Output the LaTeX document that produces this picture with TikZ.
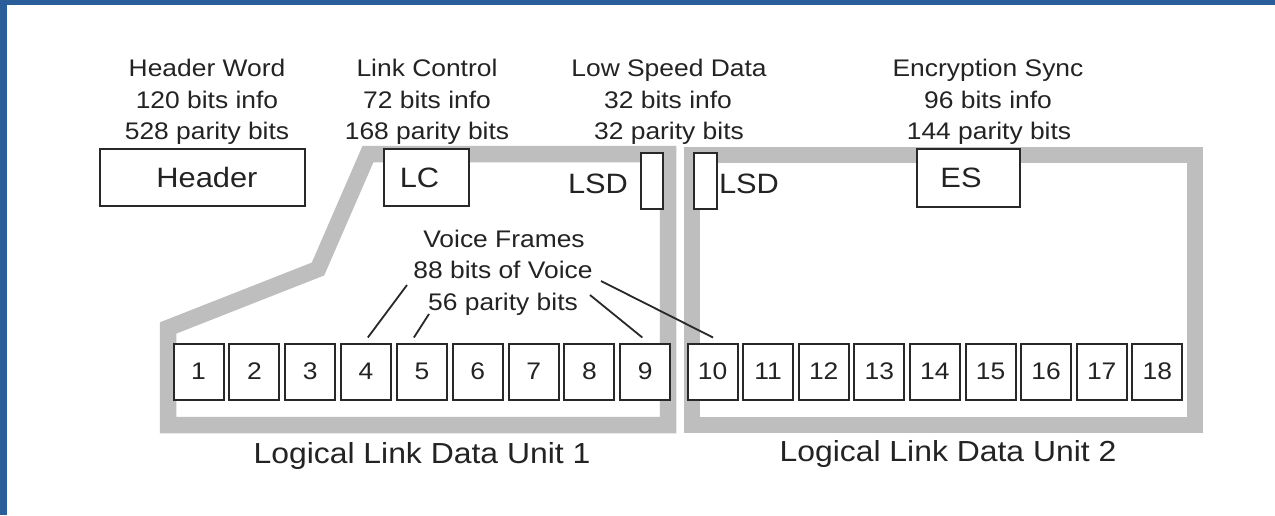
\documentclass[tikz,border=0pt]{standalone}
\usepackage{fontspec}
\setmainfont{Liberation Sans}[FakeStretch=1.1]
\definecolor{tc}{RGB}{35,35,35}
\definecolor{lnc}{RGB}{40,40,40}
\definecolor{bandc}{RGB}{190,190,190}
\definecolor{edgeblue}{RGB}{42,94,155}
\begin{document}
\begin{tikzpicture}[x=1pt,y=-1pt,
  txtc/.style={text=tc, inner sep=0pt},
  lab/.style={txtc, anchor=base, font=\fontsize{24}{24}\selectfont},
  boxlbl/.style={txtc, font=\fontsize{28}{28}\selectfont},
  unitlbl/.style={txtc, anchor=base, font=\fontsize{29}{29}\selectfont},
  fieldbox/.style={draw=lnc, line width=2pt, fill=white, inner sep=0pt, boxlbl},
  framebox/.style={draw=lnc, line width=2pt, fill=white, inner sep=0pt, minimum width=50pt, minimum height=56pt, txtc, font=\fontsize{24}{24}\selectfont},
  band/.style={draw=bandc, line width=16.5pt, line join=miter},
  pointer/.style={draw=lnc, line width=1.8pt}
]
\useasboundingbox (0,0) rectangle (1275,515);
\fill[white] (0,0) rectangle (1275,515);
\fill[edgeblue] (0,0) rectangle (1275,5);
\fill[edgeblue] (0,0) rectangle (7,515);

% logical link data unit outlines
\draw[band] (168,425) -- (168,328) -- (318,269) -- (368,154) -- (668,154) -- (668,425) -- cycle;
\draw[band] (692,155) rectangle (1195,425);

% top labels
\node[lab] (hw1) at (207,76.5) {Header Word};
\node[lab] (hw2) at (207,108) {120 bits info};
\node[lab] (hw3) at (207,139) {528 parity bits};
\node[lab] (lk1) at (427,76.5) {Link Control};
\node[lab] (lk2) at (427,108) {72 bits info};
\node[lab] (lk3) at (427,139) {168 parity bits};
\node[lab] (ls1) at (669,76.5) {Low Speed Data};
\node[lab] (ls2) at (668,108) {32 bits info};
\node[lab] (ls3) at (669,139) {32 parity bits};
\node[lab] (en1) at (988,76.5) {Encryption Sync};
\node[lab] (en2) at (988,108) {96 bits info};
\node[lab] (en3) at (989,139) {144 parity bits};

% field boxes
\node[fieldbox, minimum width=205pt, minimum height=57pt] (hdr) at (202.5,177.5) {\hspace*{9pt}Header};
\node[fieldbox, minimum width=85pt, minimum height=57pt] (lcb) at (426.5,177.5) {LC\hspace*{14pt}};
\node[fieldbox, minimum width=103pt, minimum height=58pt] (esb) at (968.5,178) {ES\hspace*{15pt}};
\node[fieldbox, minimum width=22pt, minimum height=56pt] (lsda) at (652,181) {};
\node[fieldbox, minimum width=23pt, minimum height=56pt] (lsdb) at (705.5,181) {};
\node[boxlbl, anchor=base] (lsdta) at (598,193) {LSD};
\node[boxlbl, anchor=base] (lsdtb) at (749,193) {LSD};

% voice frames
\foreach \i in {1,...,9} {
  \pgfmathsetmacro\xc{198.5+55.85*(\i-1)}
  \node[framebox] (f\i) at (\xc,371.5) {\i};
}
\foreach \i in {10,...,18} {
  \pgfmathsetmacro\xc{712.5+55.6*(\i-10)}
  \node[framebox] (f\i) at (\xc,371.5) {\i};
}

\node[lab] (vf1) at (504,247) {Voice Frames};
\node[lab] (vf2) at (503,278) {88 bits of Voice};
\node[lab] (vf3) at (503,310) {56 parity bits};

\coordinate (s4) at (407,285);
\coordinate (s5) at (429,314);
\coordinate (s9) at (590,295);
\coordinate (s10) at (601,281);
\coordinate (e4) at ([xshift=1.8pt,yshift=5pt]f4.north);
\coordinate (e5) at ([xshift=-8pt,yshift=5pt]f5.north);
\coordinate (e9) at ([xshift=-3pt,yshift=5pt]f9.north);
\coordinate (e10) at ([xshift=0.5pt,yshift=5pt]f10.north);
\draw[pointer] (s4) -- (e4);
\draw[pointer] (s5) -- (e5);
\draw[pointer] (s9) -- (e9);
\draw[pointer] (s10) -- (e10);

\node[unitlbl] (u1) at (422,463) {Logical Link Data Unit 1};
\node[unitlbl] (u2) at (948,461) {Logical Link Data Unit 2};
\end{tikzpicture}
\end{document}
